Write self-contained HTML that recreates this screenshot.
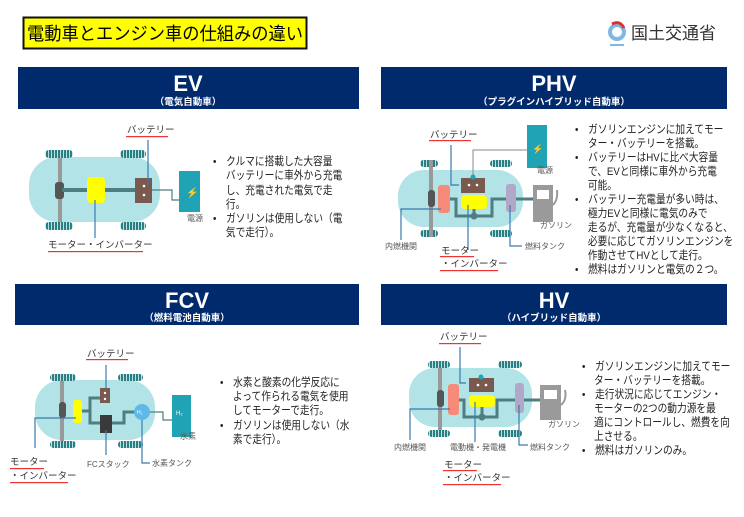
<!DOCTYPE html>
<html><head><meta charset="utf-8"><style>
body{margin:0;background:#fff;}
svg{display:block;font-family:"Liberation Sans","Noto Sans CJK JP",sans-serif;}
.t{font-size:11.3px;fill:#222;}
.s{font-size:8px;fill:#555;}
.lb{font-size:9.5px;fill:#333;}
.hd{font-size:22px;font-weight:bold;fill:#fff;}
.sh{font-size:9.5px;font-weight:bold;fill:#fff;}
</style></head><body>
<svg width="744" height="517" viewBox="0 0 744 517">
<defs>
<pattern id="wh" width="3" height="8" patternUnits="userSpaceOnUse"><rect width="3" height="8" fill="#2a7f82"/><rect width="1" height="8" fill="#bfe0e0"/></pattern>
</defs>
<!-- title -->
<rect x="23.5" y="17.5" width="283" height="31" fill="#ffff00" stroke="#111" stroke-width="2"/>
<text x="27" y="40" font-size="18" fill="#000" textLength="276" lengthAdjust="spacingAndGlyphs">電動車とエンジン車の仕組みの違い</text>
<!-- logo -->
<circle cx="617" cy="32" r="9" fill="#7db8e6"/><circle cx="617" cy="32" r="5" fill="#fff"/><path d="M612 24 Q620 20 624 28" stroke="#e03030" stroke-width="3" fill="none"/>
<rect x="610" y="44" width="14" height="2" fill="#7db8e6"/>
<text x="631" y="39" font-size="17" fill="#333">国土交通省</text>
<!-- headers -->
<rect x="18" y="67" width="341" height="42" fill="#002a6c"/>
<text x="188" y="91" class="hd" text-anchor="middle">EV</text>
<text x="188" y="105" class="sh" text-anchor="middle">（電気自動車）</text>
<rect x="381" y="67" width="346" height="42" fill="#002a6c"/>
<text x="554" y="91" class="hd" text-anchor="middle">PHV</text>
<text x="554" y="105" class="sh" text-anchor="middle">（プラグインハイブリッド自動車）</text>
<rect x="15" y="284" width="344" height="41" fill="#002a6c"/>
<text x="187" y="308" class="hd" text-anchor="middle">FCV</text>
<text x="187" y="321" class="sh" text-anchor="middle">（燃料電池自動車）</text>
<rect x="381" y="284" width="346" height="41" fill="#002a6c"/>
<text x="554" y="308" class="hd" text-anchor="middle">HV</text>
<text x="554" y="321" class="sh" text-anchor="middle">（ハイブリッド自動車）</text>

<!-- EV diagram -->
<rect x="29" y="157" width="131" height="65" rx="28" fill="#b2e3e6"/>
<rect x="45" y="150" width="28" height="8" rx="4" fill="url(#wh)"/><rect x="120" y="150" width="26" height="8" rx="4" fill="url(#wh)"/>
<rect x="45" y="222" width="28" height="8" rx="4" fill="url(#wh)"/><rect x="120" y="222" width="26" height="8" rx="4" fill="url(#wh)"/>
<rect x="58" y="158" width="4" height="64" fill="#999"/>
<rect x="55" y="182" width="9" height="17" rx="3" fill="#555"/>
<rect x="62" y="188" width="90" height="4" fill="#4e7e80"/>
<rect x="87" y="177" width="18" height="26" rx="4" fill="#ffff00"/>
<rect x="135" y="178" width="17" height="25" fill="#7a5a4e"/><circle cx="144" cy="186" r="1.3" fill="#fff"/><circle cx="144" cy="195" r="1.3" fill="#fff"/>
<path d="M152 190 H172 V200 H180" stroke="#4e7e80" stroke-width="1.2" fill="none"/>
<rect x="179" y="171" width="21" height="41" fill="#1fa3b5"/><text x="186" y="196" font-size="10" fill="#fff">⚡</text>
<text x="187" y="221" class="s">電源</text>
<text x="127" y="133" class="lb">バッテリー</text><rect x="126" y="136" width="42" height="1.2" fill="#e33"/>
<path d="M148 140 V185" stroke="#3a7ab0" stroke-width="1.2"/>
<path d="M95 200 V238" stroke="#3a7ab0" stroke-width="1.2"/>
<text x="48" y="248" class="lb">モーター・インバーター</text><rect x="48" y="251" width="95" height="1.2" fill="#e33"/>
<g class="t" transform="translate(213,0) scale(0.86,1) translate(-213,0)"><text x="213" y="165">•　クルマに搭載した大容量</text><text x="228" y="179">バッテリーに車外から充電</text><text x="228" y="194">し、充電された電気で走</text><text x="228" y="208">行。</text><text x="213" y="222">•　ガソリンは使用しない（電</text><text x="228" y="236">気で走行）。</text></g>

<!-- PHV diagram -->
<rect x="398" y="170" width="125" height="57" rx="26" fill="#b2e3e6"/>
<rect x="420" y="160" width="18" height="7" rx="3.5" fill="url(#wh)"/><rect x="490" y="160" width="22" height="7" rx="3.5" fill="url(#wh)"/>
<rect x="420" y="230" width="18" height="7" rx="3.5" fill="url(#wh)"/><rect x="490" y="230" width="22" height="7" rx="3.5" fill="url(#wh)"/>
<rect x="429" y="160" width="4" height="77" fill="#999"/>
<rect x="428" y="190" width="7" height="17" rx="3" fill="#555"/>
<rect x="438" y="185" width="12" height="28" rx="3" fill="#f58b78"/>
<path d="M450 199 H456 V216 H492 V199 H506 M474 209 V216 M516 199 H533" stroke="#4e7e80" stroke-width="3" fill="none"/>
<circle cx="474" cy="216" r="3.5" fill="#4e7e80"/>
<rect x="461" y="178" width="24" height="15" fill="#7a5a4e"/><circle cx="469" cy="185" r="1.3" fill="#fff"/><circle cx="477" cy="185" r="1.3" fill="#fff"/>
<rect x="461" y="195" width="26" height="14" rx="4" fill="#ffff00"/>
<rect x="506" y="184" width="10" height="28" rx="3" fill="#b0a8c6"/>
<circle cx="473" cy="177" r="2.5" fill="#1fa3b5"/>
<path d="M473 175 V150 H527" stroke="#888" stroke-width="1" fill="none"/>
<rect x="527" y="125" width="20" height="43" fill="#1fa3b5"/><text x="532" y="152" font-size="9" fill="#fff">⚡</text>
<text x="537" y="173" class="s">電源</text>
<rect x="533" y="185" width="20" height="37" fill="#9a9a9a"/><rect x="537" y="190" width="12" height="9" fill="#fff"/>
<path d="M553 205 Q558 200 557 190" stroke="#9a9a9a" stroke-width="2" fill="none"/>
<text x="540" y="228" class="s">ガソリン</text>
<text x="430" y="138" class="lb">バッテリー</text><rect x="429" y="140" width="42" height="1.2" fill="#e33"/>
<path d="M451 145 V185 H459" stroke="#3a7ab0" stroke-width="1.2" fill="none"/>
<path d="M441 209 H401 V240" stroke="#3a7ab0" stroke-width="1.2" fill="none"/>
<text x="385" y="249" class="s">内燃機関</text>
<path d="M468 205 V250" stroke="#3a7ab0" stroke-width="1.2"/>
<path d="M510 205 V246 H522" stroke="#3a7ab0" stroke-width="1.2" fill="none"/>
<text x="525" y="249" class="s">燃料タンク</text>
<text x="441" y="254" class="lb">モーター</text><rect x="440" y="256" width="34" height="1.2" fill="#e33"/>
<text x="441" y="267" class="lb">・インバーター</text><rect x="440" y="270" width="58" height="1.2" fill="#e33"/>
<g class="t" transform="translate(575,0) scale(0.86,1) translate(-575,0)"><text x="575" y="133">•　ガソリンエンジンに加えてモー</text><text x="590" y="147">ター・バッテリーを搭載。</text><text x="575" y="161">•　バッテリーはHVに比べ大容量</text><text x="590" y="175">で、EVと同様に車外から充電</text><text x="590" y="189">可能。</text><text x="575" y="203">•　バッテリー充電量が多い時は、</text><text x="590" y="217">極力EVと同様に電気のみで</text><text x="590" y="231">走るが、充電量が少なくなると、</text><text x="590" y="245">必要に応じてガソリンエンジンを</text><text x="590" y="259">作動させてHVとして走行。</text><text x="575" y="273">•　燃料はガソリンと電気の２つ。</text></g>

<!-- FCV diagram -->
<rect x="35" y="380" width="120" height="60" rx="27" fill="#b2e3e6"/>
<rect x="50" y="374" width="26" height="7" rx="3.5" fill="url(#wh)"/><rect x="118" y="374" width="25" height="7" rx="3.5" fill="url(#wh)"/>
<rect x="50" y="441" width="26" height="7" rx="3.5" fill="url(#wh)"/><rect x="118" y="441" width="25" height="7" rx="3.5" fill="url(#wh)"/>
<rect x="60" y="381" width="4" height="60" fill="#999"/>
<rect x="59" y="402" width="7" height="16" rx="3" fill="#555"/>
<rect x="73" y="400" width="9" height="23" rx="3" fill="#ffff00"/>
<path d="M82 411 H90 V398 H102 M90 411 V423 H102 M112 423 H124 V412 H135" stroke="#4e7e80" stroke-width="3" fill="none"/>
<rect x="100" y="388" width="10" height="15" fill="#7a5a4e"/><circle cx="105" cy="393" r="1.2" fill="#fff"/><circle cx="105" cy="399" r="1.2" fill="#fff"/>
<rect x="100" y="415" width="12" height="18" fill="#3a3a3a"/>
<circle cx="142" cy="412" r="8" fill="#5fb8e8"/><text x="137" y="414" font-size="5" fill="#fff">H₂</text>
<path d="M150 412 H163 V420 H172" stroke="#4e7e80" stroke-width="1.2" fill="none"/>
<rect x="172" y="395" width="19" height="42" fill="#1fa3b5"/><text x="176" y="415" font-size="6" fill="#fff">H₂</text>
<text x="180" y="439" class="s">水素</text>
<text x="87" y="357" class="lb">バッテリー</text><rect x="86" y="359" width="42" height="1.2" fill="#e33"/>
<path d="M106 365 V388" stroke="#3a7ab0" stroke-width="1.2"/>
<path d="M106 430 V455" stroke="#3a7ab0" stroke-width="1.2"/><text x="87" y="467" class="s">FCスタック</text>
<path d="M142 420 V463 H150" stroke="#3a7ab0" stroke-width="1.2" fill="none"/><text x="152" y="466" class="s">水素タンク</text>
<path d="M76 418 H35 V448" stroke="#3a7ab0" stroke-width="1.2" fill="none"/>
<text x="10" y="465" class="lb">モーター</text><rect x="10" y="468" width="34" height="1.2" fill="#e33"/>
<text x="10" y="479" class="lb">・インバーター</text><rect x="10" y="482" width="58" height="1.2" fill="#e33"/>
<g class="t" transform="translate(220,0) scale(0.86,1) translate(-220,0)"><text x="220" y="386">•　水素と酸素の化学反応に</text><text x="235" y="400">よって作られる電気を使用</text><text x="235" y="414">してモーターで走行。</text><text x="220" y="429">•　ガソリンは使用しない（水</text><text x="235" y="443">素で走行）。</text></g>

<!-- HV diagram -->
<rect x="409" y="368" width="123" height="59" rx="26" fill="#b2e3e6"/>
<rect x="428" y="361" width="22" height="7" rx="3.5" fill="url(#wh)"/><rect x="498" y="361" width="24" height="7" rx="3.5" fill="url(#wh)"/>
<rect x="428" y="430" width="22" height="7" rx="3.5" fill="url(#wh)"/><rect x="498" y="430" width="24" height="7" rx="3.5" fill="url(#wh)"/>
<rect x="438" y="368" width="4" height="62" fill="#999"/>
<rect x="437" y="390" width="7" height="17" rx="3" fill="#555"/>
<rect x="448" y="384" width="11" height="31" rx="3" fill="#f58b78"/>
<path d="M459 400 H464 V417 H497 V400 H515 M482 407 V417 M524 400 H540" stroke="#4e7e80" stroke-width="3" fill="none"/>
<circle cx="482" cy="417" r="3.5" fill="#4e7e80"/>
<rect x="469" y="378" width="25" height="14" fill="#7a5a4e"/><circle cx="478" cy="385" r="1.3" fill="#fff"/><circle cx="486" cy="385" r="1.3" fill="#fff"/>
<circle cx="481" cy="377" r="2.5" fill="#1fa3b5"/>
<rect x="469" y="395" width="26" height="12" rx="4" fill="#ffff00"/>
<rect x="515" y="383" width="9" height="30" rx="3" fill="#b0a8c6"/>
<rect x="540" y="385" width="21" height="35" fill="#9a9a9a"/><rect x="544" y="390" width="13" height="9" fill="#fff"/>
<path d="M561 405 Q567 400 565 390" stroke="#9a9a9a" stroke-width="2" fill="none"/>
<text x="548" y="427" class="s">ガソリン</text>
<text x="440" y="340" class="lb">バッテリー</text><rect x="439" y="343" width="42" height="1.2" fill="#e33"/>
<path d="M460 347 V383 H466" stroke="#3a7ab0" stroke-width="1.2" fill="none"/>
<path d="M450 409 H410 V440" stroke="#3a7ab0" stroke-width="1.2" fill="none"/>
<text x="394" y="450" class="s">内燃機関</text>
<path d="M475 402 V442" stroke="#3a7ab0" stroke-width="1.2"/>
<text x="450" y="450" class="s">電動機・発電機</text>
<path d="M519 405 V445 H528" stroke="#3a7ab0" stroke-width="1.2" fill="none"/>
<text x="530" y="450" class="s">燃料タンク</text>
<text x="444" y="468" class="lb">モーター</text><rect x="443" y="470" width="34" height="1.2" fill="#e33"/>
<text x="444" y="481" class="lb">・インバーター</text><rect x="443" y="484" width="58" height="1.2" fill="#e33"/>
<g class="t" transform="translate(582,0) scale(0.86,1) translate(-582,0)"><text x="582" y="370">•　ガソリンエンジンに加えてモー</text><text x="596" y="384">ター・バッテリーを搭載。</text><text x="582" y="398">•　走行状況に応じてエンジン・</text><text x="596" y="412">モーターの2つの動力源を最</text><text x="596" y="426">適にコントロールし、燃費を向</text><text x="596" y="440">上させる。</text><text x="582" y="454">•　燃料はガソリンのみ。</text></g>
</svg>
</body></html>
